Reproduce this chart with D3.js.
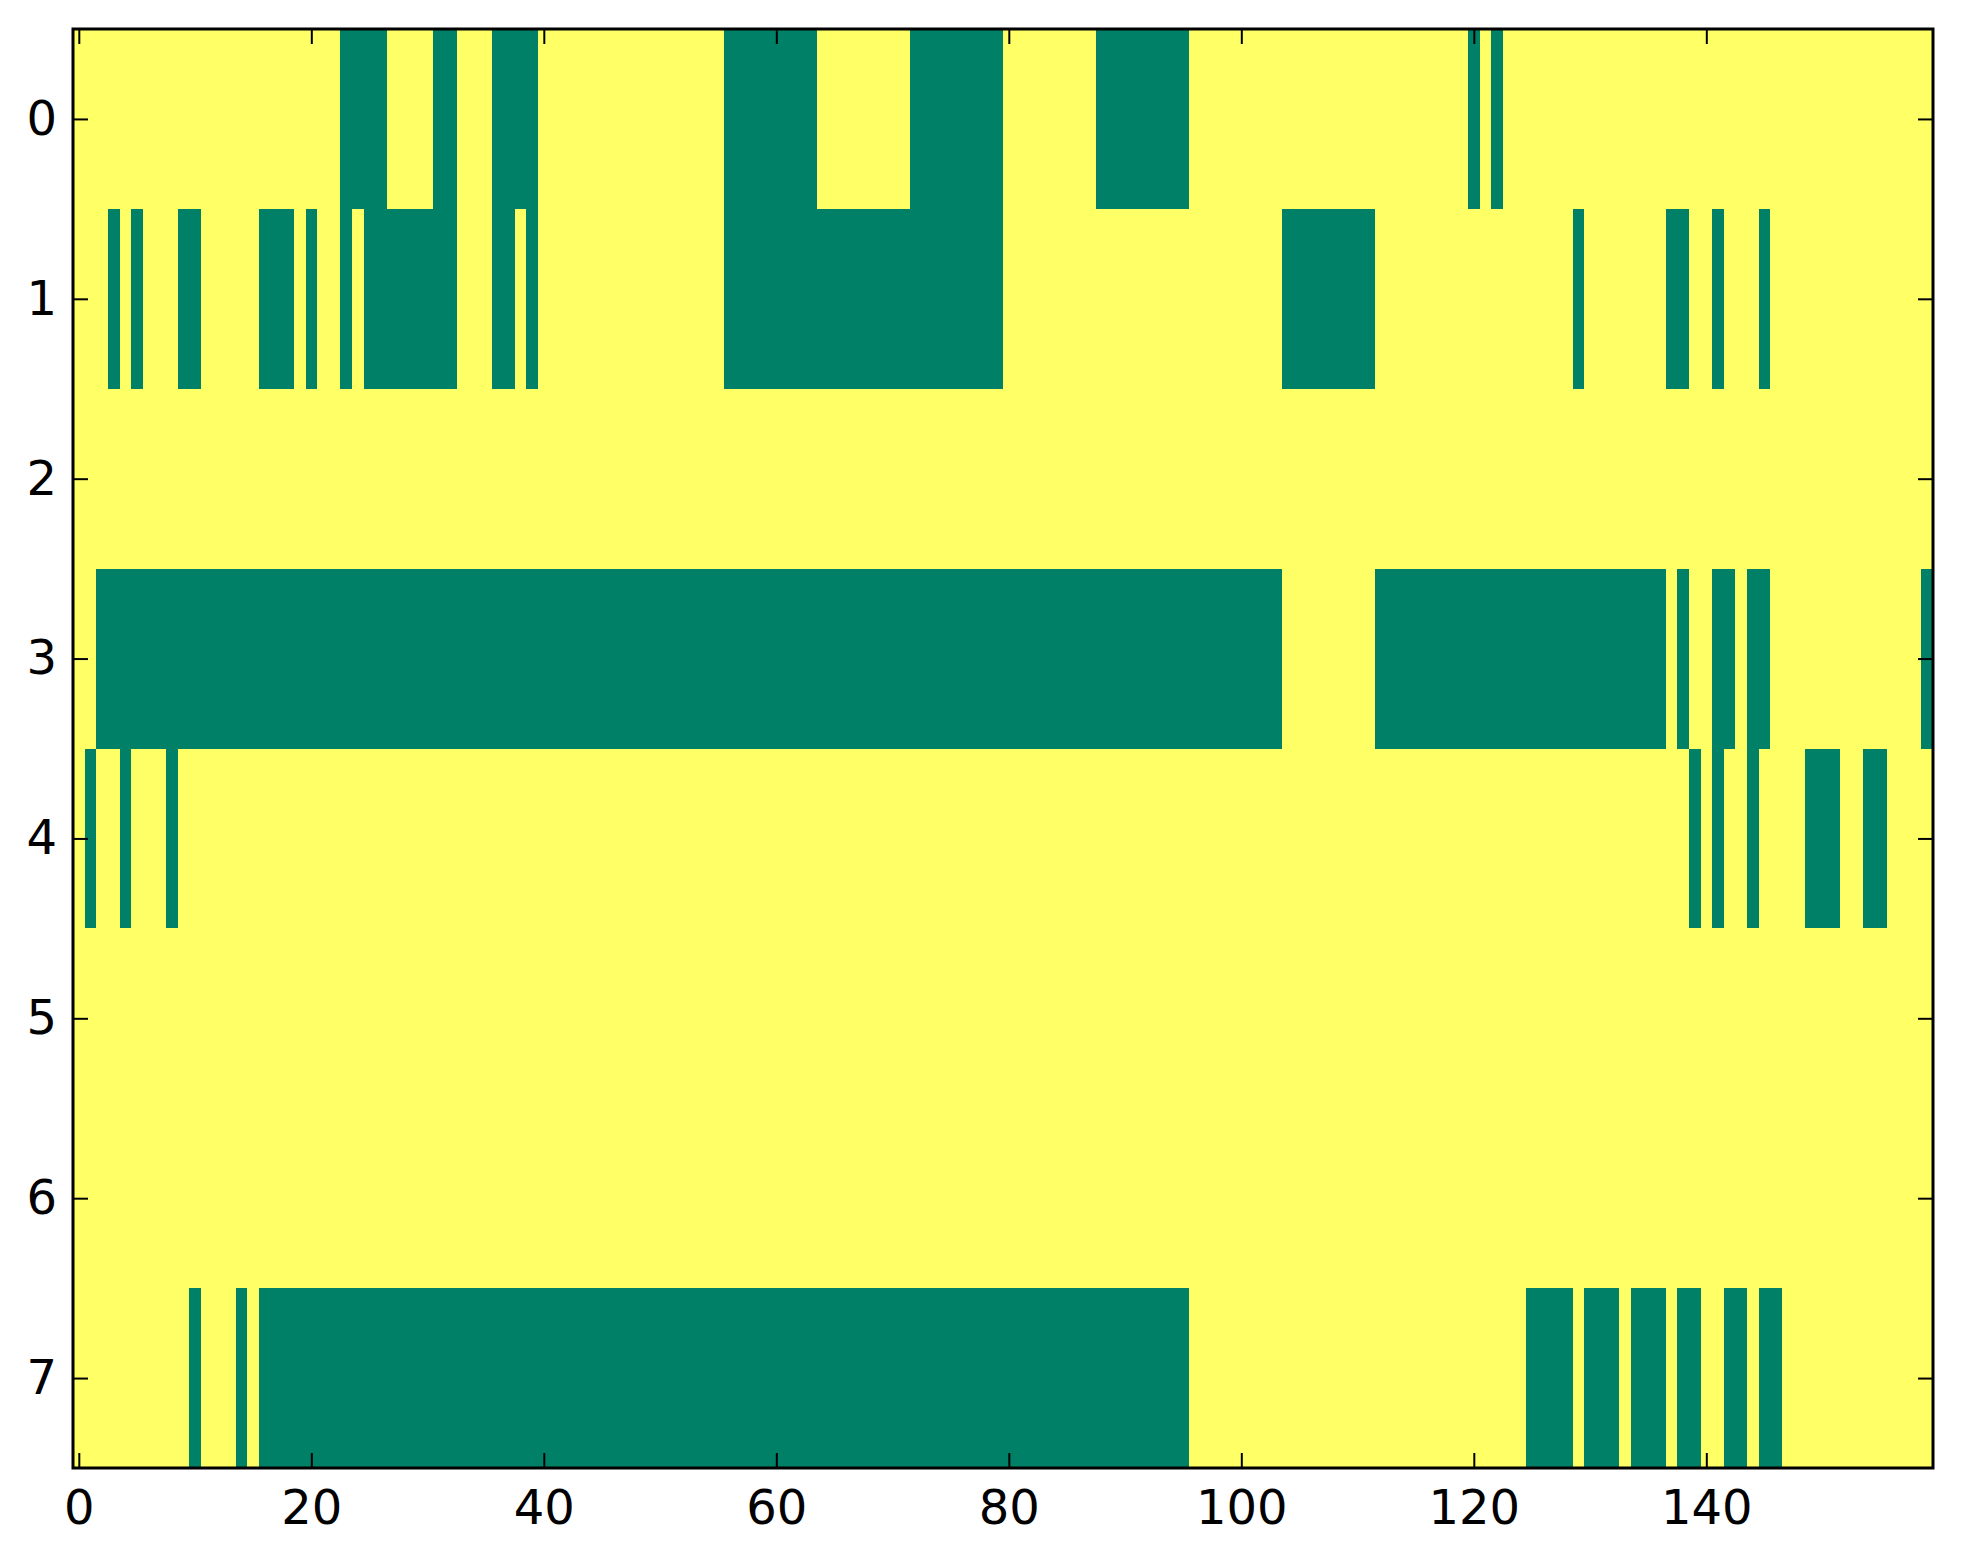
<!DOCTYPE html>
<html>
<head>
<meta charset="utf-8">
<script src="https://cdn.jsdelivr.net/npm/d3@7/dist/d3.min.js"></script>
<style>
  html, body { margin: 0; padding: 0; background: #ffffff; }
  svg { display: block; }
</style>
</head>
<body>
<svg id="chart" width="1963" height="1564"></svg>
<script>
// ---- Data: 8 rows x 160 columns, binary image (value 0 = green, 1 = yellow) ----
const nCols = 160;
const nRows = 8;
// Column ranges [start, end] (inclusive) whose value is 0, per row
const row0Zeros = [[23,26],[31,32],[36,39],[56,63],[72,79],[88,95],[120,120],[122,122]];
const row1Zeros = [[3,3],[5,5],[9,10],[16,18],[20,20],[23,23],[25,32],[36,37],[39,39],[56,79],[104,111],[129,129],[137,138],[141,141],[145,145]];
const row2Zeros = [];
const row3Zeros = [[2,103],[112,136],[138,138],[141,142],[144,145],[159,159]];
const row4Zeros = [[1,1],[4,4],[8,8],[139,139],[141,141],[144,144],[149,151],[154,155]];
const row5Zeros = [];
const row6Zeros = [];
const row7Zeros = [[10,10],[14,14],[16,95],[125,128],[130,132],[134,136],[138,139],[142,143],[145,146]];
const rowsZeros = [row0Zeros, row1Zeros, row2Zeros, row3Zeros, row4Zeros, row5Zeros, row6Zeros, row7Zeros];

const xTicks = [0, 20, 40, 60, 80, 100, 120, 140];
const yTicks = [0, 1, 2, 3, 4, 5, 6, 7];

(function () {
  // Build the matrix from the runs
  const cells = [];
  rowsZeros.forEach((runs, r) => {
    for (let c = 0; c < nCols; c++) {
      const isZero = runs.some(([a, b]) => c >= a && c <= b);
      cells.push({ row: r, col: c, value: isZero ? 0 : 1 });
    }
  });

  // ---- Layout ----
  const svg = d3.select("#chart");
  const pL = 73, pR = 1933, pT = 29, pB = 1468;

  const x = d3.scaleLinear().domain([-0.5, nCols - 0.5]).range([pL, pR]);
  const y = d3.scaleLinear().domain([-0.5, nRows - 0.5]).range([pT, pB]);
  const color = d3.scaleLinear().domain([0, 1]).range(["#008066", "#ffff66"]);

  svg.append("rect").attr("width", 1963).attr("height", 1564).attr("fill", "#ffffff");

  svg.append("g")
    .attr("shape-rendering", "crispEdges")
    .selectAll("rect")
    .data(cells)
    .join("rect")
    .attr("x", d => x(d.col - 0.5))
    .attr("y", d => y(d.row - 0.5))
    .attr("width", d => x(d.col + 0.5) - x(d.col - 0.5) + 0.6)
    .attr("height", d => y(d.row + 0.5) - y(d.row - 0.5) + 0.6)
    .attr("fill", d => color(d.value));

  const fontFamily = "'DejaVu Sans', sans-serif";
  const fontSize = 48;

  function styleAxis(g) {
    g.select(".domain").remove();
    g.selectAll(".tick line").attr("stroke", "#000").attr("stroke-width", 2);
    g.selectAll(".tick text").attr("fill", "#000")
      .style("font-family", fontFamily).style("font-size", fontSize + "px");
  }

  svg.append("g")
    .attr("transform", `translate(0,${pB})`)
    .call(d3.axisBottom(x).tickValues(xTicks).tickSize(-15).tickPadding(22))
    .call(styleAxis);

  svg.append("g")
    .attr("transform", `translate(0,${pT})`)
    .call(d3.axisTop(x).tickValues(xTicks).tickSize(-15).tickFormat(""))
    .call(styleAxis);

  svg.append("g")
    .attr("transform", `translate(${pL},0)`)
    .call(d3.axisLeft(y).tickValues(yTicks).tickSize(-15).tickPadding(16))
    .call(styleAxis);

  svg.append("g")
    .attr("transform", `translate(${pR},0)`)
    .call(d3.axisRight(y).tickValues(yTicks).tickSize(-15).tickFormat(""))
    .call(styleAxis);

  // Frame
  svg.append("rect")
    .attr("x", pL).attr("y", pT)
    .attr("width", pR - pL).attr("height", pB - pT)
    .attr("fill", "none").attr("stroke", "#000").attr("stroke-width", 3);
})();
</script>
</body>
</html>
